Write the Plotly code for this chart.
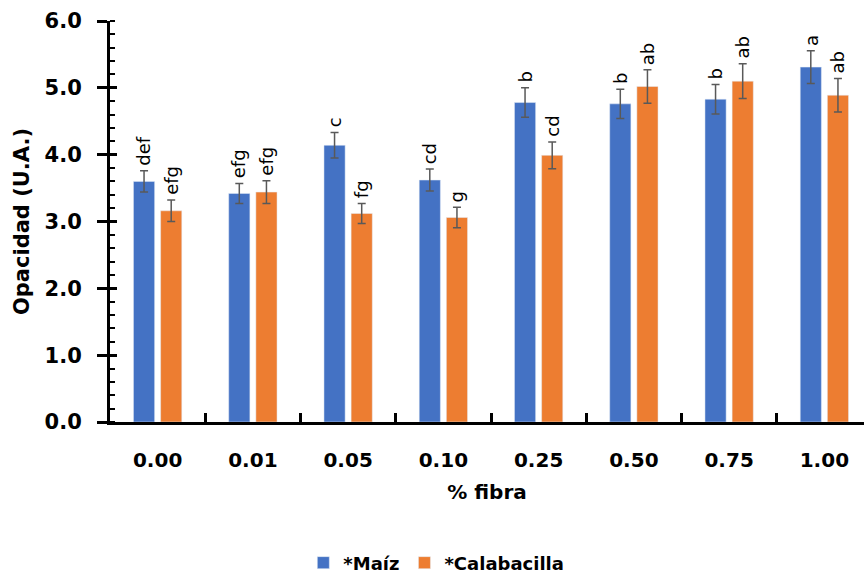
import plotly.graph_objects as go

# Fibre concentration (%) on the x axis
fibra = ["0.00", "0.01", "0.05", "0.10", "0.25", "0.50", "0.75", "1.00"]

# Opacity means and standard deviations
maiz = [3.60, 3.42, 4.14, 3.62, 4.78, 4.76, 4.83, 5.31]
maiz_sd = [0.16, 0.15, 0.19, 0.165, 0.22, 0.22, 0.22, 0.245]
calabacilla = [3.16, 3.44, 3.12, 3.06, 3.99, 5.02, 5.10, 4.89]
calabacilla_sd = [0.16, 0.17, 0.15, 0.155, 0.20, 0.25, 0.26, 0.25]

# Tukey letters
maiz_letras = ["def", "efg", "c", "cd", "b", "b", "b", "a"]
calabacilla_letras = ["efg", "efg", "fg", "g", "cd", "ab", "ab", "ab"]

BLUE = "#4472C4"
ORANGE = "#ED7D31"
ERR = "#595959"
FONT = "DejaVu Sans"

BARGAP = 0.43
SLOT = (1 - BARGAP) / 2

fig = go.Figure()
fig.add_trace(go.Bar(
    x=fibra, y=maiz, name="*Maíz", marker_color=BLUE,
    error_y=dict(type="data", array=maiz_sd, color=ERR, thickness=1.5, width=4),
))
fig.add_trace(go.Bar(
    x=fibra, y=calabacilla, name="*Calabacilla", marker_color=ORANGE,
    error_y=dict(type="data", array=calabacilla_sd, color=ERR, thickness=1.5, width=4),
))
# invisible trace carrying the inner half of the major y ticks
fig.add_trace(go.Scatter(x=[fibra[0]], y=[0], yaxis="y2", mode="markers",
                         marker=dict(opacity=0), showlegend=False, hoverinfo="skip"))

annotations = []
for i in range(len(fibra)):
    for off, vals, sds, labs in ((-SLOT / 2, maiz, maiz_sd, maiz_letras),
                                 (SLOT / 2, calabacilla, calabacilla_sd, calabacilla_letras)):
        annotations.append(dict(
            x=i + off, y=vals[i] + sds[i], xref="x", yref="y",
            text=labs[i], showarrow=False, textangle=-90,
            xanchor="center", yanchor="bottom", yshift=3,
            font=dict(family=FONT, size=18, color="black"),
        ))

fig.update_layout(
    width=864, height=575,
    margin=dict(l=110, r=0, t=21, b=153),
    paper_bgcolor="white", plot_bgcolor="white",
    barmode="group", bargap=BARGAP, bargroupgap=0.22,
    font=dict(family=FONT, color="black"),
    annotations=annotations,
    showlegend=True,
    legend=dict(
        orientation="h", xref="container", yref="container",
        x=0.505, y=0.021, xanchor="center", yanchor="middle",
        font=dict(family=FONT, size=18, weight="bold", color="black"),
        itemwidth=30,
    ),
    xaxis=dict(
        type="category", range=[-0.5, 7.416],
        showline=True, linecolor="black", linewidth=3,
        ticks="inside", tickson="boundaries", ticklen=9, tickwidth=2.5, tickcolor="black",
        ticklabelstandoff=18,
        tickfont=dict(family=FONT, size=20, weight="bold", color="black"),
        title=dict(text="% fibra", standoff=14,
                   font=dict(family=FONT, size=20, weight="bold", color="black")),
        showgrid=False, zeroline=False,
    ),
    yaxis=dict(
        range=[0, 6], dtick=1, tickformat=".1f",
        showline=True, linecolor="black", linewidth=3,
        ticks="outside", ticklen=10, tickwidth=2.5, tickcolor="black",
        minor=dict(ticks="inside", ticklen=5, dtick=0.2, tickwidth=2, tickcolor="black"),
        ticklabelstandoff=11,
        tickfont=dict(family=FONT, size=21, weight="bold", color="black"),
        title=dict(text="Opacidad (U.A.)", standoff=10,
                   font=dict(family=FONT, size=21, weight="bold", color="black")),
        showgrid=False, zeroline=False,
    ),
    yaxis2=dict(
        overlaying="y", side="left", anchor="x", range=[0, 6], dtick=1,
        ticks="inside", ticklen=7, tickwidth=2.5, tickcolor="black",
        showticklabels=False, showgrid=False, zeroline=False, showline=False,
    ),
)

fig.write_html("out.html")
